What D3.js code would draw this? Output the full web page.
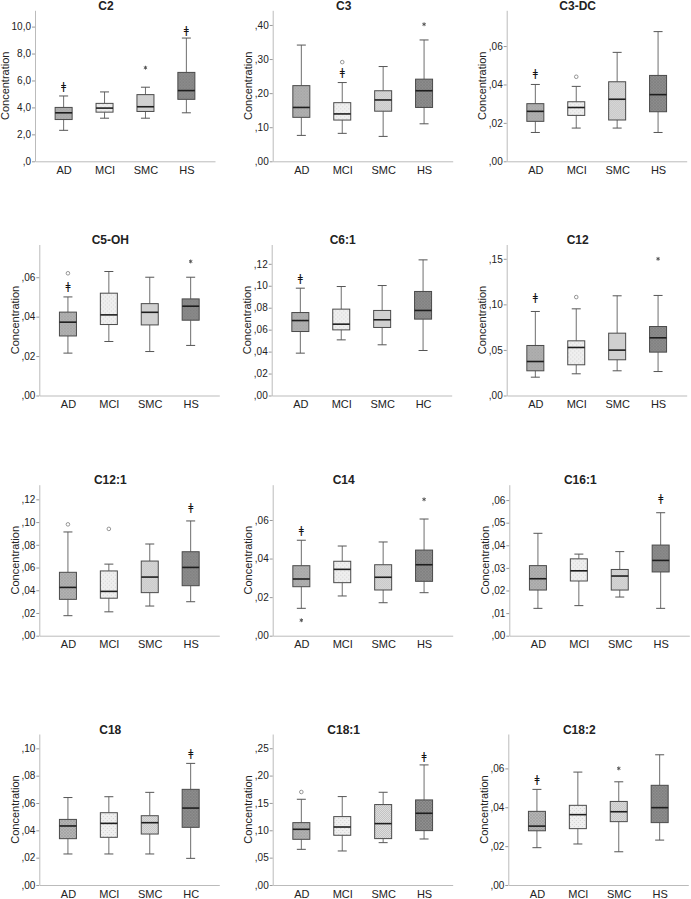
<!DOCTYPE html>
<html>
<head>
<meta charset="utf-8">
<script src="https://cdn.jsdelivr.net/npm/d3@7"></script>
<style>
  body { margin: 0; background: #fff; }
  svg { display: block; font-family: Arial, "Liberation Sans", sans-serif; }
</style>
</head>
<body>
<div id="chart"></div>
<script>
// ---- data ----
const analytes = ["C2", "C3", "C3-DC", "C5-OH", "C6:1", "C12", "C12:1", "C14", "C16:1", "C18", "C18:1", "C18:2"];
const groupsHS = ["AD", "MCI", "SMC", "HS"];
const groupsHC = ["AD", "MCI", "SMC", "HC"];
const groupLabels = [groupsHS, groupsHS, groupsHS, groupsHS, groupsHC, groupsHS,
                     groupsHS, groupsHS, groupsHS, groupsHC, groupsHS, groupsHS];

// [lower whisker, Q1, median, Q3, upper whisker] per group
const boxStats = [
  [[2.3, 3.1, 3.6, 4.0, 4.85], [3.2, 3.65, 3.95, 4.3, 5.15], [3.2, 3.7, 4.05, 4.95, 5.5], [3.6, 4.6, 5.25, 6.6, 9.15]],
  [[0.076, 0.129, 0.158, 0.222, 0.341], [0.082, 0.121, 0.139, 0.172, 0.231], [0.073, 0.147, 0.180, 0.207, 0.278], [0.110, 0.158, 0.207, 0.241, 0.356]],
  [[0.015, 0.0208, 0.026, 0.030, 0.040], [0.0173, 0.0239, 0.028, 0.031, 0.039], [0.0173, 0.0215, 0.0323, 0.0414, 0.0567], [0.015, 0.0258, 0.0347, 0.0447, 0.0675]],
  [[0.0215, 0.0302, 0.0372, 0.0423, 0.050], [0.0274, 0.0360, 0.0409, 0.0519, 0.0629], [0.0223, 0.0358, 0.0422, 0.0466, 0.060], [0.0254, 0.0382, 0.0453, 0.049, 0.060]],
  [[0.0386, 0.0583, 0.0683, 0.0756, 0.0978], [0.0507, 0.0598, 0.065, 0.0787, 0.0993], [0.0462, 0.062, 0.069, 0.0775, 0.1002], [0.041, 0.0696, 0.0775, 0.0948, 0.1236]],
  [[0.0201, 0.0271, 0.0373, 0.0549, 0.0922], [0.0238, 0.0337, 0.0527, 0.060, 0.0951], [0.0271, 0.0392, 0.0498, 0.0684, 0.1094], [0.0263, 0.0476, 0.0633, 0.0757, 0.1098]],
  [[0.0176, 0.032, 0.0425, 0.0558, 0.0913], [0.021, 0.033, 0.039, 0.057, 0.063], [0.0261, 0.0379, 0.0516, 0.0657, 0.0807], [0.0299, 0.044, 0.0601, 0.0739, 0.101]],
  [[0.0142, 0.0254, 0.0294, 0.0363, 0.0495], [0.0206, 0.0275, 0.0344, 0.0386, 0.0465], [0.0171, 0.0237, 0.0303, 0.0368, 0.0486], [0.0223, 0.0282, 0.0368, 0.0444, 0.0605]],
  [[0.0121, 0.0202, 0.0252, 0.031, 0.0453], [0.0133, 0.0242, 0.0287, 0.034, 0.0361], [0.0171, 0.0202, 0.0264, 0.0293, 0.0372], [0.0121, 0.0282, 0.0333, 0.0401, 0.0544]],
  [[0.0227, 0.0339, 0.0432, 0.048, 0.064], [0.0227, 0.0349, 0.0451, 0.0529, 0.0646], [0.0227, 0.0373, 0.0456, 0.0507, 0.0678], [0.0195, 0.0422, 0.0563, 0.070, 0.089]],
  [[0.0652, 0.0835, 0.1018, 0.114, 0.1567], [0.0622, 0.0909, 0.106, 0.125, 0.1616], [0.0774, 0.0848, 0.1122, 0.147, 0.1695], [0.0841, 0.0994, 0.1311, 0.1555, 0.2195]],
  [[0.0192, 0.0279, 0.0303, 0.0379, 0.0492], [0.0211, 0.029, 0.0362, 0.041, 0.0581], [0.0171, 0.0326, 0.0377, 0.043, 0.0531], [0.0231, 0.0321, 0.0398, 0.0513, 0.067]]
];

// [panel, group, value, kind]  kind: "o" outlier, "*" extreme
const outliers = [
  [0, 2, 6.95, "*"],
  [1, 1, 0.291, "o"], [1, 3, 0.402, "*"],
  [2, 1, 0.044, "o"],
  [3, 0, 0.062, "o"], [3, 3, 0.068, "*"],
  [5, 1, 0.108, "o"], [5, 3, 0.150, "*"],
  [6, 0, 0.098, "o"], [6, 1, 0.094, "o"],
  [7, 0, 0.008, "*"], [7, 3, 0.0707, "*"],
  [10, 0, 0.170, "o"],
  [11, 2, 0.060, "*"]
];

// significance markers [panel, group, value]
const markers = [
  [0, 0, 5.6], [0, 3, 9.75],
  [1, 1, 0.263],
  [2, 0, 0.0461],
  [3, 0, 0.0553],
  [4, 0, 0.107],
  [5, 0, 0.108],
  [6, 3, 0.1136],
  [7, 0, 0.0548],
  [8, 3, 0.0607],
  [9, 3, 0.0963],
  [10, 3, 0.2366],
  [11, 0, 0.0545]
];

const yMax = [11.21, 0.443, 0.0786, 0.0766, 0.1376, 0.1657, 0.1329, 0.0783, 0.0668, 0.1105, 0.276, 0.0777];
const yTicks = [
  [0, 2, 4, 6, 8, 10],
  [0, 0.1, 0.2, 0.3, 0.4],
  [0, 0.02, 0.04, 0.06],
  [0, 0.02, 0.04, 0.06],
  [0, 0.02, 0.04, 0.06, 0.08, 0.10, 0.12],
  [0, 0.05, 0.10, 0.15],
  [0, 0.02, 0.04, 0.06, 0.08, 0.10, 0.12],
  [0, 0.02, 0.04, 0.06],
  [0, 0.01, 0.02, 0.03, 0.04, 0.05, 0.06],
  [0, 0.02, 0.04, 0.06, 0.08, 0.10],
  [0, 0.05, 0.10, 0.15, 0.20, 0.25],
  [0, 0.02, 0.04, 0.06]
];
const yDecimals = [1, 2, 2, 2, 2, 2, 2, 2, 2, 2, 2, 2];

// ---- layout ----
const width = 691, height = 899;
const panelLeft = [35, 272.7, 506.7, 39.3, 271.7, 506.7, 39.3, 272.7, 509.3, 39.3, 272.7, 508.3];
const rowBottom = [161.3, 395.5, 635.7, 885];
const plotW = 180, plotH = 151;
const boxW = 17, capW = 9;
const patIds = ["patAD", "patMCI", "patSMC", "patHS"];

const svg = d3.select("#chart").append("svg")
  .attr("width", width)
  .attr("height", height);

// fill patterns for the four groups
const defs = svg.append("defs");

function hatch(id, bg, fg) {
  const p = defs.append("pattern").attr("id", id)
    .attr("width", 3).attr("height", 3)
    .attr("patternUnits", "userSpaceOnUse");
  p.append("rect").attr("width", 3).attr("height", 3).attr("fill", bg);
  p.append("path").attr("d", "M0,0L3,3M3,0L0,3")
    .attr("stroke", fg).attr("stroke-width", 0.6);
}
function dots(id, bg, fg, s) {
  const p = defs.append("pattern").attr("id", id)
    .attr("width", s).attr("height", s)
    .attr("patternUnits", "userSpaceOnUse");
  p.append("rect").attr("width", s).attr("height", s).attr("fill", bg);
  p.append("rect").attr("width", 1).attr("height", 1).attr("fill", fg);
  p.append("rect").attr("x", s / 2).attr("y", s / 2).attr("width", 1).attr("height", 1).attr("fill", fg);
}
hatch("patAD", "#b5b5b5", "#9c9c9c");
dots("patMCI", "#efefef", "#d2d2d2", 4);
dots("patSMC", "#e3e3e3", "#bdbdbd", 2);
hatch("patHS", "#8f8f8f", "#777");

function fmt(dec) {
  return d => {
    let s = d.toFixed(dec).replace(".", ",");
    if (s.startsWith("0")) s = s.slice(1);
    return s;
  };
}

analytes.forEach((name, i) => {
  const left = panelLeft[i];
  const top = rowBottom[Math.floor(i / 3)] - plotH;
  const g = svg.append("g").attr("transform", "translate(" + left + "," + top + ")");

  const x = d3.scalePoint()
    .domain(groupLabels[i])
    .range([0, plotW])
    .padding(0.7);
  const y = d3.scaleLinear()
    .domain([0, yMax[i]])
    .range([plotH, 0]);

  // y axis
  const ya = g.append("g")
    .call(d3.axisLeft(y).tickValues(yTicks[i]).tickSize(3).tickSizeOuter(0).tickPadding(1).tickFormat(fmt(yDecimals[i])));
  ya.select(".domain").attr("stroke", "#bbb");
  ya.selectAll(".tick line").attr("stroke", "#999");
  ya.selectAll("text").attr("font-size", 10).attr("fill", "#222").attr("font-family", "Arial, 'Liberation Sans', sans-serif");

  // x axis
  const xa = g.append("g")
    .attr("transform", "translate(0," + plotH + ")")
    .call(d3.axisBottom(x).tickSize(0).tickSizeOuter(0).tickPadding(5));
  xa.select(".domain").attr("stroke", "#bbb");
  xa.selectAll("text").attr("font-size", 11).attr("fill", "#222").attr("font-family", "Arial, 'Liberation Sans', sans-serif");

  // y axis title
  let maxW = 0;
  ya.selectAll("text").each(function () { maxW = Math.max(maxW, this.getComputedTextLength()); });
  g.append("text")
    .attr("transform", "translate(" + (-3 - maxW - 7.5) + "," + (plotH / 2) + ")rotate(-90)")
    .attr("text-anchor", "middle")
    .attr("dy", "0.35em")
    .attr("font-size", 11)
    .attr("fill", "#222")
    .text("Concentration");

  // panel title
  g.append("text")
    .attr("x", 71)
    .attr("y", -0.5)
    .attr("text-anchor", "middle")
    .attr("font-size", 12)
    .attr("font-weight", "bold")
    .attr("fill", "#222")
    .text(name);

  // boxes
  const boxes = g.selectAll(".box")
    .data(boxStats[i])
    .enter()
    .append("g")
      .attr("class", "box")
      .attr("transform", (d, j) => "translate(" + x(groupLabels[i][j]) + ",0)");

  boxes.append("line")
    .attr("y1", d => y(d[3])).attr("y2", d => y(d[4]))
    .attr("stroke", "#6e6e6e");
  boxes.append("line")
    .attr("y1", d => y(d[0])).attr("y2", d => y(d[1]))
    .attr("stroke", "#6e6e6e");
  boxes.append("line")
    .attr("x1", -capW / 2).attr("x2", capW / 2)
    .attr("y1", d => y(d[4])).attr("y2", d => y(d[4]))
    .attr("stroke", "#555");
  boxes.append("line")
    .attr("x1", -capW / 2).attr("x2", capW / 2)
    .attr("y1", d => y(d[0])).attr("y2", d => y(d[0]))
    .attr("stroke", "#555");
  boxes.append("rect")
    .attr("x", -boxW / 2)
    .attr("width", boxW)
    .attr("y", d => y(d[3]))
    .attr("height", d => y(d[1]) - y(d[3]))
    .attr("fill", (d, j) => "url(#" + patIds[j] + ")")
    .attr("stroke", "#4a4a4a")
    .attr("stroke-width", 1);
  boxes.append("line")
    .attr("x1", -boxW / 2).attr("x2", boxW / 2)
    .attr("y1", d => y(d[2])).attr("y2", d => y(d[2]))
    .attr("stroke", "#1e1e1e")
    .attr("stroke-width", 1.6);

  // outliers
  const outs = outliers.filter(o => o[0] === i);
  g.selectAll(".mild")
    .data(outs.filter(o => o[3] === "o"))
    .enter()
    .append("circle")
      .attr("cx", o => x(groupLabels[i][o[1]]))
      .attr("cy", o => y(o[2]))
      .attr("r", 1.8)
      .attr("fill", "none")
      .attr("stroke", "#8a8a8a")
      .attr("stroke-width", 0.9);
  g.selectAll(".extreme")
    .data(outs.filter(o => o[3] === "*"))
    .enter()
    .append("path")
      .attr("transform", o => "translate(" + x(groupLabels[i][o[1]]) + "," + y(o[2]) + ")")
      .attr("d", d3.symbol(d3.symbolAsterisk, 10))
      .attr("fill", "none")
      .attr("stroke", "#555")
      .attr("stroke-width", 1);

  // significance markers
  g.append("g")
    .attr("opacity", 0.99)
    .selectAll(".sig")
    .data(markers.filter(m => m[0] === i))
    .enter()
    .append("text")
      .attr("x", m => x(groupLabels[i][m[1]]))
      .attr("y", m => y(m[2]))
      .attr("dy", "0.36em")
      .attr("text-anchor", "middle")
      .attr("font-size", 11)
      .attr("font-family", "'DejaVu Sans', sans-serif")
      .attr("fill", "#111")
      .text("ǂ");
});
</script>
</body>
</html>
